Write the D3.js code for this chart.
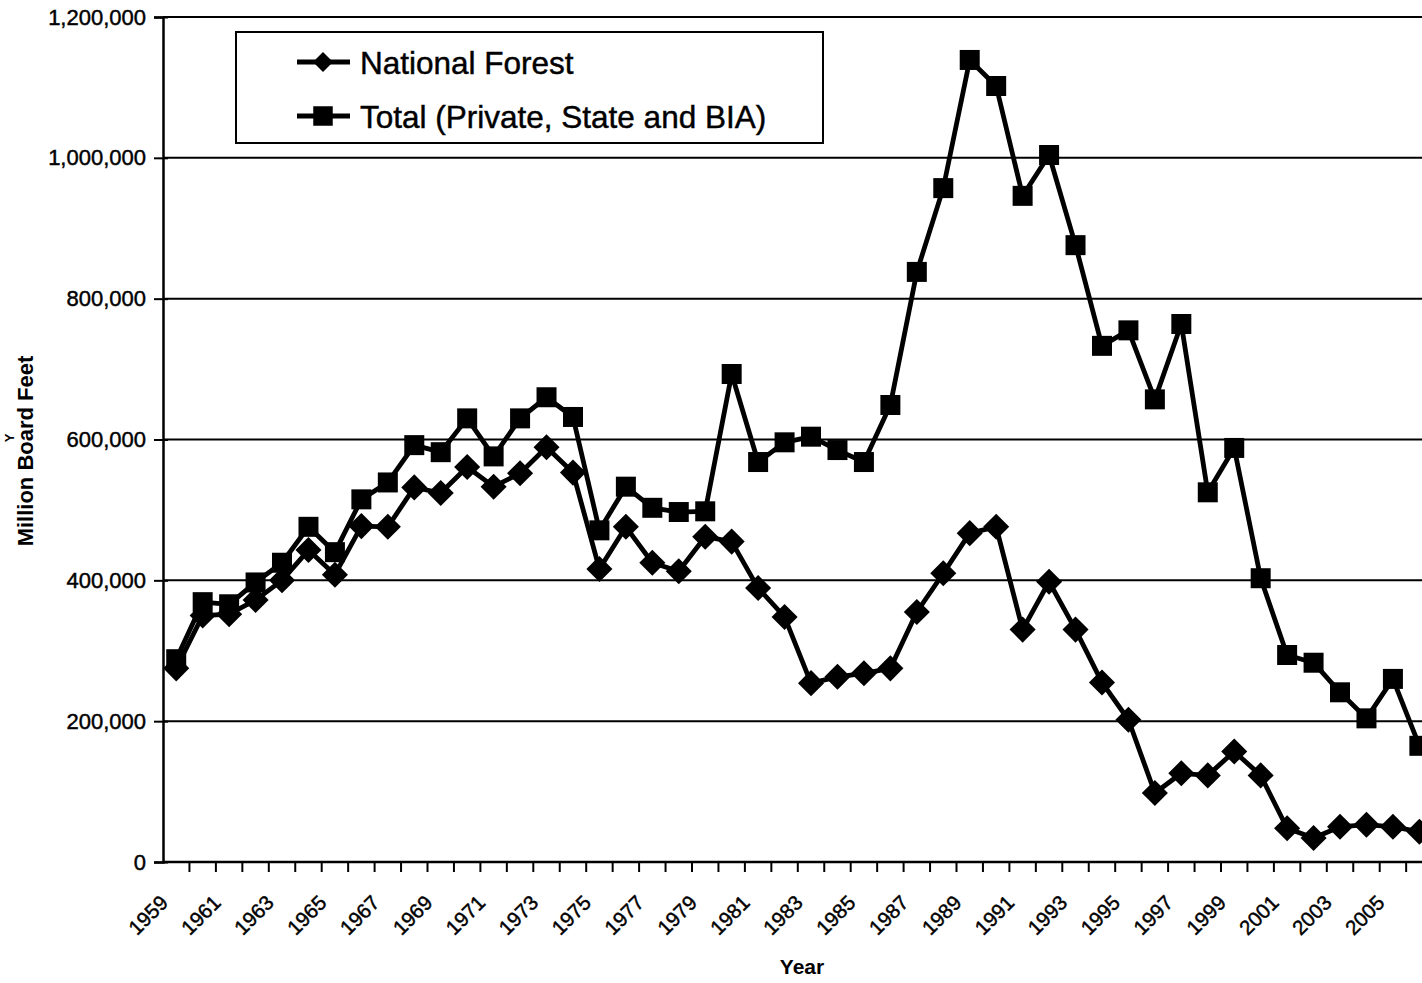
<!DOCTYPE html>
<html>
<head>
<meta charset="utf-8">
<script src="https://cdn.jsdelivr.net/npm/d3@7"></script>
<style>
  body { margin: 0; background: #fff; }
  svg { display: block; font-family: "Liberation Sans", Arial, sans-serif; }
  .scan { stroke: #000; stroke-width: 0.45px; }
</style>
</head>
<body>
<div id="chart"></div>
<script>
const years = [
    1959, 1960, 1961, 1962, 1963, 1964, 1965, 1966, 1967, 1968,
    1969, 1970, 1971, 1972, 1973, 1974, 1975, 1976, 1977, 1978,
    1979, 1980, 1981, 1982, 1983, 1984, 1985, 1986, 1987, 1988,
    1989, 1990, 1991, 1992, 1993, 1994, 1995, 1996, 1997, 1998,
    1999, 2000, 2001, 2002, 2003, 2004, 2005, 2006
];
const labelYears = [
    1959, 1961, 1963, 1965, 1967, 1969, 1971, 1973, 1975, 1977, 1979, 1981,
    1983, 1985, 1987, 1989, 1991, 1993, 1995, 1997, 1999, 2001, 2003, 2005
];
const nationalForest = [
    275000, 350000, 352000, 372000, 400000, 443000, 408000, 477000, 476000, 532000,
    524000, 561000, 533000, 552000, 589000, 553000, 416000, 476000, 425000, 413000,
    462000, 455000, 389000, 348000, 254000, 263000, 268000, 275000, 355000, 410000,
    467000, 476000, 330000, 398000, 330000, 255000, 202000, 98000, 126000, 123000,
    157000, 123000, 48000, 34000, 50000, 53000, 50000, 43000
];
const totalOther = [
    288000, 369000, 366000, 397000, 425000, 476000, 440000, 515000, 539000, 592000,
    582000, 630000, 576000, 630000, 660000, 632000, 471000, 533000, 503000, 497000,
    498000, 693000, 568000, 596000, 604000, 585000, 568000, 649000, 838000, 957000,
    1139000, 1102000, 946000, 1004000, 876000, 733000, 755000, 657000, 764000, 525000,
    588000, 403000, 294000, 283000, 241000, 204000, 260000, 165000
];
const yTicks = [0, 200000, 400000, 600000, 800000, 1000000, 1200000];
const seriesNames = ["National Forest", "Total (Private, State and BIA)"];

const width = 1422, height = 983;
const plotLeft = 163, plotTop = 17, plotBottom = 862, step = 26.45;

const svg = d3.select("#chart").append("svg")
    .attr("width", width).attr("height", height);

const x = d3.scaleBand().domain(years).range([plotLeft, plotLeft + years.length * step]);
const y = d3.scaleLinear().domain([0, 1200000]).range([plotBottom, plotTop]);
const cx = d => x(d) + x.bandwidth() / 2;

// gridlines (top one doubles as the plot border)
svg.append("g").selectAll("line")
    .data(yTicks.slice(1))
    .enter().append("line")
    .attr("x1", plotLeft).attr("x2", width)
    .attr("y1", d => y(d)).attr("y2", d => y(d))
    .attr("stroke", "#000").attr("stroke-width", 2);

// y axis
let yAxis = svg.append("g")
    .attr("transform", `translate(${plotLeft},0)`)
    .call(d3.axisLeft(y).tickValues(yTicks).tickFormat(d3.format(",")).tickSize(9).tickPadding(8));
yAxis.select(".domain").attr("stroke-width", 2.5);
yAxis.selectAll(".tick line").attr("x1", 5).attr("stroke-width", 2);
yAxis.selectAll("text").attr("font-size", 22).attr("fill", "#000")
    .attr("class", "scan")
    .attr("font-family", "'Liberation Sans', Arial, sans-serif");

// x axis line + ticks between categories
svg.append("line")
    .attr("x1", plotLeft).attr("x2", width)
    .attr("y1", plotBottom).attr("y2", plotBottom)
    .attr("stroke", "#000").attr("stroke-width", 2.5);
svg.append("g").selectAll("line")
    .data(years.slice(1))
    .enter().append("line")
    .attr("x1", d => x(d)).attr("x2", d => x(d))
    .attr("y1", plotBottom).attr("y2", plotBottom + 10)
    .attr("stroke", "#000").attr("stroke-width", 2);

svg.append("g").selectAll("text")
    .data(labelYears)
    .enter().append("text")
    .attr("class", "scan")
    .attr("transform", d => `translate(${cx(d) - 7},${plotBottom + 42}) rotate(-45)`)
    .attr("text-anchor", "end")
    .attr("font-size", 20.5)
    .text(d => d);

// axis titles
svg.append("text")
    .attr("x", 802).attr("y", 974)
    .attr("text-anchor", "middle")
    .attr("font-size", 21).attr("font-weight", "bold")
    .text("Year");
svg.append("text")
    .attr("transform", "translate(33,451) rotate(-90)")
    .attr("text-anchor", "middle")
    .attr("font-size", 22).attr("font-weight", "bold")
    .text("Million Board Feet");
svg.append("text")
    .attr("transform", "translate(14,438) rotate(-90)")
    .attr("text-anchor", "middle")
    .attr("font-size", 13).attr("font-weight", "bold")
    .text("Y");

// series
const line = d3.line().x((d, i) => cx(years[i])).y(d => y(d));
const diamond = d3.symbol(d3.symbolSquare, 340);
const square = d3.symbol(d3.symbolSquare, 400);

function drawSeries(values, sym, rot) {
    let g = svg.append("g");
    g.append("path").datum(values)
        .attr("d", line)
        .attr("fill", "none").attr("stroke", "#000")
        .attr("stroke-width", 4.8).attr("stroke-linejoin", "round");
    g.selectAll("path.mark")
        .data(values)
        .enter().append("path")
        .attr("class", "mark")
        .attr("d", sym)
        .attr("transform", (d, i) => `translate(${cx(years[i])},${y(d)}) rotate(${rot})`)
        .attr("fill", "#000");
}
drawSeries(nationalForest, diamond, 45);
drawSeries(totalOther, square, 0);

// legend
let legend = svg.append("g");
legend.append("rect")
    .attr("x", 236).attr("y", 32).attr("width", 587).attr("height", 111)
    .attr("fill", "#fff").attr("stroke", "#000").attr("stroke-width", 2);
let legendSyms = [[d3.symbol(d3.symbolSquare, 200), 45], [d3.symbol(d3.symbolSquare, 380), 0]];
seriesNames.forEach((name, i) => {
    let ly = 62 + i * 54;
    legend.append("line")
        .attr("x1", 297).attr("x2", 350).attr("y1", ly).attr("y2", ly)
        .attr("stroke", "#000").attr("stroke-width", 5);
    legend.append("path")
        .attr("d", legendSyms[i][0])
        .attr("transform", `translate(323,${ly}) rotate(${legendSyms[i][1]})`)
        .attr("fill", "#000");
    legend.append("text")
        .attr("class", "scan")
        .attr("x", 360).attr("y", ly + 12)
        .attr("font-size", 31.5)
        .text(name);
});
</script>
</body>
</html>
